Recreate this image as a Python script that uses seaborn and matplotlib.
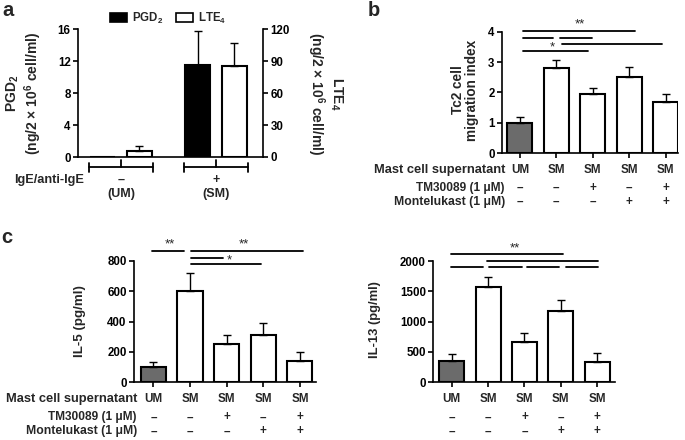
import numpy as np
import pandas as pd
import matplotlib
matplotlib.use("Agg")
import matplotlib.pyplot as plt
import seaborn as sns
from matplotlib.transforms import blended_transform_factory as btf
from matplotlib.patches import Patch

# ---------------- data ----------------
groups_a = ["(UM)", "(SM)"]
ige_a = ["–", "+"]
pgd2_mean = [0.05, 11.5]
pgd2_err = [0.0, 4.3]
lte4_mean = [5.7, 86.0]
lte4_err = [4.7, 21.5]

cond_ids = ["UM", "SM", "SM+TM", "SM+Mon", "SM+TM+Mon"]
supernatant = ["UM", "SM", "SM", "SM", "SM"]
tm30089 = ["–", "–", "+", "–", "+"]
montelukast = ["–", "–", "–", "+", "+"]
tc2_mean = [1.0, 2.8, 1.94, 2.5, 1.7]
tc2_err = [0.2, 0.27, 0.2, 0.35, 0.24]
il5_mean = [100, 600, 250, 314, 143]
il5_err = [31, 121, 61, 74, 57]
il13_mean = [352, 1566, 665, 1170, 341]
il13_err = [109, 165, 154, 187, 137]

# significance bars: (x0, x1, y) in data units, and star labels
sig_b = [(0.08, 3.15, 4.03), (0.08, 0.90, 3.80), (1.10, 1.97, 3.80),
         (1.15, 3.89, 3.60), (0.08, 1.86, 3.37)]
stars_b = [(1.64, 4.26, "**"), (0.90, 3.50, "*")]
sig_c5 = [(-0.04, 0.83, 866), (1.02, 4.08, 866), (1.02, 1.90, 820), (1.02, 2.94, 776)]
stars_c5 = [(0.45, 905, "**"), (2.47, 905, "**"), (2.06, 800, "*")]
sig_c13 = [(-0.03, 3.05, 2116), (0.96, 4.02, 2005), (-0.03, 0.85, 1896),
           (1.03, 1.93, 1896), (2.07, 2.95, 1896), (3.14, 4.02, 1896)]
stars_c13 = [(1.74, 2210, "**")]

# ---------------- style ----------------
sns.set_theme(style="ticks")
plt.rcParams.update({
    "font.family": ["Liberation Sans", "DejaVu Sans"],
    "font.weight": "bold",
    "axes.labelweight": "bold",
    "font.size": 8.5,
    "mathtext.fontset": "custom",
    "mathtext.rm": "Liberation Sans:bold",
    "mathtext.bf": "Liberation Sans:bold",
    "mathtext.it": "Liberation Sans:bold",
    "mathtext.default": "bf",
    "axes.linewidth": 1.2,
    "xtick.major.width": 1.2,
    "ytick.major.width": 1.2,
    "xtick.major.size": 3.8,
    "ytick.major.size": 3.8,
    "xtick.major.pad": 1.5,
    "ytick.major.pad": 1.5,
    "xtick.color": "black",
    "ytick.color": "black",
    "axes.edgecolor": "black",
})

W, H = 685, 440
fig = plt.figure(figsize=(W / 100, H / 100), dpi=100)
fig.patch.set_facecolor("white")


def add_ax(l, t, r, b):
    return fig.add_axes([l / W, 1 - b / H, (r - l) / W, (b - t) / H])


def fy(p):
    return 1 - p / H


def fx(p):
    return p / W


GRAY = "#6b6b6b"
EC = "black"
BAR_LW = 1.5
TICK_FS = 8.3
CAT_FS = 8.4

# ---------------- panel a ----------------
ax_a = add_ax(78, 29.5, 263, 157)
ax_a2 = ax_a.twinx()
xa = np.arange(len(groups_a))
off = 0.19
df_p = pd.DataFrame({"x": xa - off, "y": pgd2_mean})
df_l = pd.DataFrame({"x": xa + off, "y": lte4_mean})
sns.barplot(data=df_p, x="x", y="y", native_scale=True, width=0.263, color="black",
            edgecolor=EC, linewidth=BAR_LW, errorbar=None, ax=ax_a, saturation=1)
sns.barplot(data=df_l, x="x", y="y", native_scale=True, width=0.263, color="white",
            edgecolor=EC, linewidth=BAR_LW, errorbar=None, ax=ax_a2, saturation=1)
ax_a.errorbar(xa[1:] - off, pgd2_mean[1:], yerr=[[0], pgd2_err[1:]], fmt="none",
              ecolor="black", elinewidth=1, capsize=3.2, capthick=1)
ax_a2.errorbar(xa + off, lte4_mean, yerr=[np.zeros(2), lte4_err], fmt="none",
               ecolor="black", elinewidth=1, capsize=3.2, capthick=1)
for ax in (ax_a, ax_a2):
    ax.set_xlim(-0.453, 1.495)
    ax.set_xticks([])
    ax.set_xlabel("")
    ax.set_ylabel("")
    ax.spines["top"].set_visible(False)
    ax.tick_params(labelsize=TICK_FS, direction="out")
ax_a.spines["right"].set_visible(False)
ax_a2.spines["left"].set_visible(False)
ax_a2.spines["bottom"].set_visible(False)
ax_a.set_ylim(0, 16)
ax_a.set_yticks([0, 4, 8, 12, 16])
ax_a2.set_ylim(0, 120)
ax_a2.set_yticks([0, 30, 60, 90, 120])

fig.text(fx(24.5), fy(93), "PGD$_2$\n(ng/2 × 10$^6$ cell/ml)", rotation=90,
         ha="center", va="center", fontsize=10, linespacing=1.1)
fig.text(fx(325), fy(94), "LTE$_4$\n(ng/2 × 10$^6$ cell/ml)", rotation=270,
         ha="center", va="center", fontsize=10, linespacing=1.1)

# bracket under panel a
ta = btf(ax_a.transData, fig.transFigure)
yb = fy(167.5)
for g in xa:
    ax_a.plot([g - 0.337, g + 0.337], [yb, yb], color="black", lw=1.3,
              transform=ta, clip_on=False)
    for e in (g - 0.337, g + 0.337):
        ax_a.plot([e, e], [fy(163), fy(172)], color="black", lw=1.3,
                  transform=ta, clip_on=False)
    ax_a.plot([g, g], [fy(160.5), yb], color="black", lw=1.3, transform=ta, clip_on=False)
    ax_a.text(g, fy(180), ige_a[g], transform=ta, ha="center", va="center", fontsize=9)
    ax_a.text(g, fy(194), groups_a[g], transform=ta, ha="center", va="center", fontsize=9)
fig.text(fx(84), fy(180), "IgE/anti-IgE", ha="right", va="center", fontsize=9.2)

fig.legend(handles=[Patch(facecolor="black", edgecolor="black", lw=1.2),
                    Patch(facecolor="white", edgecolor="black", lw=1.2)],
           labels=["PGD$_2$", "LTE$_4$"], ncol=2, loc="center",
           bbox_to_anchor=(fx(168), fy(18)), frameon=False, fontsize=8.3,
           handlelength=1.45, handleheight=0.9, columnspacing=1.1, handletextpad=0.45)

# ---------------- helper for panels b, c ----------------
palette = {c: (GRAY if c == "UM" else "white") for c in cond_ids}
row_names = ["Mast cell supernatant", "TM30089 (1 μM)", "Montelukast (1 μM)"]
row_name_fs = [9.3, 8.6, 8.8]


def cond_panel(ax, means, errs, ylim, yticks, xlim, sigs, stars, row_x):
    df = pd.DataFrame({"cond": cond_ids, "val": means})
    sns.barplot(data=df, x="cond", y="val", hue="cond", palette=palette, legend=False,
                edgecolor=EC, linewidth=BAR_LW, width=0.685, errorbar=None, ax=ax,
                saturation=1)
    xs = np.arange(len(cond_ids))
    ax.errorbar(xs, means, yerr=[np.zeros(len(means)), errs], fmt="none",
                ecolor="black", elinewidth=1, capsize=3.2, capthick=1, zorder=1)
    ax.set_ylim(*ylim)
    ax.set_yticks(yticks)
    ax.set_xlim(*xlim)
    ax.set_xticks(xs)
    ax.set_xticklabels([])
    ax.set_xlabel("")
    ax.set_ylabel("")
    ax.tick_params(labelsize=TICK_FS, direction="out")
    sns.despine(ax=ax)
    for x0, x1, y in sigs:
        ax.plot([x0, x1], [y, y], color="black", lw=1.3, clip_on=False)
    for x, y, s in stars:
        ax.text(x, y, s, ha="center", va="center", fontsize=9.5, fontweight="normal",
                clip_on=False)
    # rows below axis
    bottom_px = (1 - ax.get_position().y0) * H
    t = btf(ax.transData, fig.transFigure)
    rows = [supernatant, tm30089, montelukast]
    offs = [17, 35, 49]
    for r, o in zip(rows, offs):
        for i, s in enumerate(r):
            ax.text(i, fy(bottom_px + o), s, transform=t, ha="center", va="center",
                    fontsize=CAT_FS)
    if row_x is not None:
        for n, o, fs in zip(row_names, offs, row_name_fs):
            fig.text(fx(row_x), fy(bottom_px + o), n, ha="right", va="center", fontsize=fs)


# panel b
ax_b = add_ax(502, 32, 678, 153)
cond_panel(ax_b, tc2_mean, tc2_err, (0, 4), [0, 1, 2, 3, 4], (-0.49, 4.34),
           sig_b, stars_b, 505)
fig.text(fx(465), fy(90), "Tc2 cell\nmigration index", rotation=90, ha="center",
         va="center", fontsize=9.8, linespacing=1.05)

# panel c left
ax_c1 = add_ax(134, 260.7, 316, 382.3)
cond_panel(ax_c1, il5_mean, il5_err, (0, 800), [0, 200, 400, 600, 800], (-0.53, 4.44),
           sig_c5, stars_c5, 137)
fig.text(fx(80), fy(321), "IL-5 (pg/ml)", rotation=90, ha="center", va="center",
         fontsize=9.6)

# panel c right
ax_c2 = add_ax(433.3, 261, 615, 382.3)
cond_panel(ax_c2, il13_mean, il13_err, (0, 2000), [0, 500, 1000, 1500, 2000],
           (-0.506, 4.49), sig_c13, stars_c13, None)
fig.text(fx(375), fy(320), "IL-13 (pg/ml)", rotation=90, ha="center", va="center",
         fontsize=9.4)

# panel letters
fig.text(fx(8), fy(10), "a", ha="center", va="center", fontsize=14.5)
fig.text(fx(374), fy(11), "b", ha="center", va="center", fontsize=14.5)
fig.text(fx(7), fy(237), "c", ha="center", va="center", fontsize=14.5)

fig.savefig("out.png", dpi=100, facecolor="white")
